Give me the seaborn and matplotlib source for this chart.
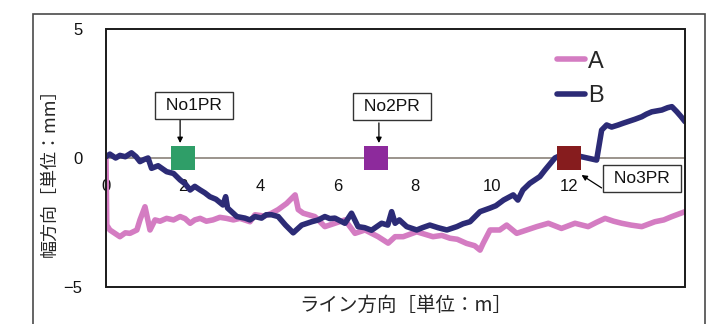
import matplotlib
matplotlib.use("Agg")
import matplotlib.pyplot as plt
from matplotlib.lines import Line2D
from matplotlib.patches import Rectangle
import numpy as np
import pandas as pd
import seaborn as sns

# Measured lateral deviation along the line direction
a_x = [0, 0.02, 0.1, 0.36, 0.5, 0.62, 0.8, 0.88, 1.01, 1.14, 1.27, 1.4, 1.57, 1.75,
       1.92, 2.05, 2.18, 2.3, 2.44, 2.6, 2.77, 2.95, 3.12, 3.3, 3.47, 3.73, 3.86, 4.1,
       4.29, 4.46, 4.68, 4.9, 4.98, 5.11, 5.41, 5.67, 5.93, 6.19, 6.45, 6.71, 7.05,
       7.31, 7.49, 7.7, 8.05, 8.25, 8.47, 8.7, 8.91, 9.1, 9.34, 9.55, 9.69, 9.77, 9.95,
       10.2, 10.38, 10.64, 10.9, 11.16, 11.46, 11.8, 12.15, 12.49, 12.7, 12.93, 13.15,
       13.36, 13.6, 13.88, 14.22, 14.45, 14.66, 15.0]
a_y = [0.0, -2.6, -2.79, -3.05, -2.9, -2.92, -2.79, -2.4, -1.89, -2.79, -2.4, -2.45,
       -2.34, -2.4, -2.27, -2.35, -2.53, -2.4, -2.34, -2.45, -2.4, -2.3, -2.34, -2.4,
       -2.34, -2.47, -2.2, -2.25, -2.14, -2.0, -1.76, -1.43, -2.0, -2.14, -2.27, -2.66,
       -2.53, -2.4, -2.92, -2.79, -3.05, -3.3, -3.05, -3.05, -2.86, -2.95, -3.05, -3.0,
       -3.11, -3.15, -3.31, -3.4, -3.57, -3.31, -2.79, -2.79, -2.6, -2.92, -2.79, -2.66,
       -2.53, -2.73, -2.53, -2.66, -2.5, -2.34, -2.45, -2.53, -2.6, -2.66, -2.47, -2.4,
       -2.27, -2.08]

b_x = [0, 0.1, 0.25, 0.36, 0.5, 0.66, 0.78, 0.88, 1.0, 1.09, 1.18, 1.35, 1.57, 1.75,
       1.92, 2.05, 2.18, 2.3, 2.44, 2.56, 2.69, 2.85, 3.03, 3.1, 3.15, 3.39, 3.6, 3.73,
       3.86, 4.03, 4.15, 4.29, 4.46, 4.65, 4.85, 5.07, 5.33, 5.5, 5.67, 5.8, 5.93, 6.19,
       6.36, 6.53, 6.7, 6.88, 7.14, 7.3, 7.4, 7.49, 7.6, 7.79, 8.05, 8.2, 8.39, 8.6,
       8.83, 9.09, 9.25, 9.43, 9.69, 9.95, 10.1, 10.3, 10.55, 10.67, 10.8, 10.98, 11.24,
       11.37, 11.63, 11.89, 12.1, 12.32, 12.71, 12.84, 12.97, 13.1, 13.27, 13.4, 13.52,
       13.7, 13.88, 14.0, 14.14, 14.4, 14.55, 14.66, 14.79, 14.9, 15.0]
b_y = [0.05, 0.15, 0.0, 0.1, 0.05, 0.2, 0.05, -0.14, -0.05, 0.0, -0.4, -0.3, -0.53,
       -0.6, -0.85, -1.0, -1.24, -1.1, -1.24, -1.35, -1.5, -1.6, -1.82, -1.5, -1.94,
       -2.27, -2.33, -2.4, -2.27, -2.33, -2.2, -2.2, -2.27, -2.6, -2.9, -2.6, -2.47,
       -2.4, -2.27, -2.35, -2.33, -2.53, -2.14, -2.66, -2.7, -2.8, -2.53, -2.6, -2.08,
       -2.53, -2.4, -2.66, -2.79, -2.7, -2.6, -2.7, -2.79, -2.66, -2.55, -2.47, -2.08,
       -1.94, -1.85, -1.63, -1.43, -1.63, -1.24, -0.98, -0.72, -0.47, 0.0, 0.18, 0.12,
       0.05, -0.08, 1.08, 1.28, 1.2, 1.28, 1.35, 1.41, 1.5, 1.6, 1.7, 1.79, 1.86, 1.95,
       1.99, 1.79, 1.6, 1.41]

series_names = ["A", "B"]
series_colors = ["#d47cc2", "#2c2b76"]

# Reference point positions
pr_names = ["No1PR", "No2PR", "No3PR"]
pr_x = [2.0, 7.0, 12.0]
pr_y = [0.0, 0.0, 0.0]
pr_colors = ["#2f9e68", "#8d2a9c", "#861c1e"]

x_ticks = [0, 2, 4, 6, 8, 10, 12]
y_ticks = [-5, 0, 5]

sns.set_style("white")
plt.rcParams["font.family"] = ["Liberation Sans", "Noto Sans CJK JP"]

W, H = 713, 324
fig = plt.figure(figsize=(W / 100, H / 100), dpi=100)
ax = fig.add_axes([106 / W, 1 - 287 / H, (685 - 106) / W, (287 - 29) / H])

df = pd.concat([
    pd.DataFrame({"x": a_x, "y": a_y, "s": "A"}),
    pd.DataFrame({"x": b_x, "y": b_y, "s": "B"}),
])
sns.lineplot(data=df, x="x", y="y", hue="s", palette=dict(zip(series_names, series_colors)),
             estimator=None, sort=False, lw=4, ax=ax, legend=False, zorder=3)

pr_df = pd.DataFrame({"x": pr_x, "y": pr_y, "n": pr_names})
sns.scatterplot(data=pr_df, x="x", y="y", hue="n", palette=dict(zip(pr_names, pr_colors)),
                marker="s", s=300, linewidth=0, ax=ax, legend=False, zorder=4)

ax.set_xlim(0, 15)
ax.set_ylim(-5, 5)
ax.set_xticks(x_ticks)
ax.set_yticks(y_ticks)
ax.set_yticklabels([f"{v}".replace("-", "\u2212") for v in y_ticks])

# Horizontal axis sits at y = 0, with the tick labels hanging below it
for s in ["top", "right", "left"]:
    ax.spines[s].set_visible(False)
ax.spines["bottom"].set_position(("data", 0))
ax.spines["bottom"].set_color("#8a8279")
ax.spines["bottom"].set_linewidth(1.2)
ax.spines["bottom"].set_zorder(1)
ax.add_patch(Rectangle((0, 0), 1, 1, transform=ax.transAxes, fill=False,
                       ec="#1a1a1a", lw=1.4, clip_on=False, zorder=5))
ax.tick_params(axis="x", length=0, pad=15, labelsize=12, labelcolor="#111111")
ax.tick_params(axis="y", length=0, pad=17, labelsize=12, labelcolor="#111111")

cjk = ["Noto Sans CJK JP", "DejaVu Sans"]
ax.set_xlabel("ライン方向［単位：m］", family=cjk, fontsize=14, va="center")
ax.xaxis.set_label_coords((406 - 106) / 579, (287 - 305) / 258)
ax.set_ylabel("幅方向［単位：mm］", family=cjk, fontsize=13, va="center")
ax.yaxis.set_label_coords((50 - 106) / 579, (287 - 168) / 258)

# Labelled reference points
box = dict(boxstyle="square,pad=0.35", fc="white", ec="#333333", lw=1.0)
label_pos = [(2.28, 2.02), (7.41, 1.98), (13.89, -0.81)]
arrow_from = [(1.92, 1.47), (7.07, 1.36), (12.84, -1.16)]
arrow_to = [(1.92, 0.58), (7.07, 0.58), (12.32, -0.66)]
for name, (tx, ty), p0, p1 in zip(pr_names, label_pos, arrow_from, arrow_to):
    ax.annotate("", xy=p1, xytext=p0,
                arrowprops=dict(arrowstyle="-|>", color="black", lw=0.9,
                                mutation_scale=8, shrinkA=0, shrinkB=0), zorder=6)
    ax.text(tx, ty, f" {name} ", ha="center", va="center", fontsize=12.5, color="#111111",
            bbox=box, zorder=7)

handles = [Line2D([], [], color=c, lw=4) for c in series_colors]
ax.legend(handles, series_names, loc="center left",
          bbox_to_anchor=(557 / W, 1 - 79 / H), bbox_transform=fig.transFigure,
          frameon=False, fontsize=17, handlelength=1.2, handletextpad=0.1,
          labelspacing=0.55, borderpad=0, borderaxespad=0)

# Outer chart frame
fig.patches.append(Rectangle((33 / W, -0.05), (705 - 33) / W, 1.05 - 14 / H,
                             transform=fig.transFigure, fill=False, ec="#4a4a4a",
                             lw=1.2, zorder=0))

fig.savefig("out.png", dpi=100)
